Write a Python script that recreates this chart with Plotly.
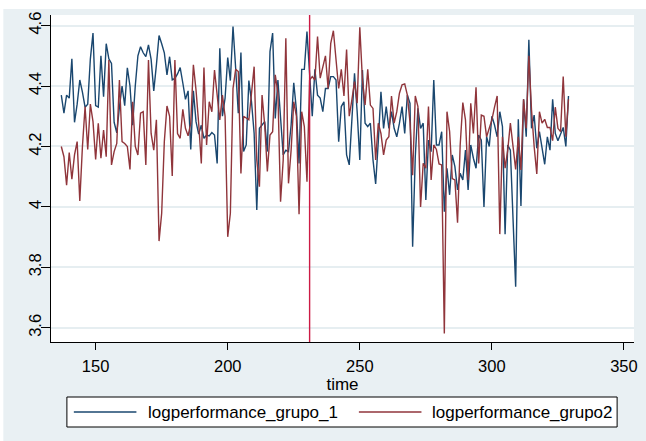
import plotly.graph_objects as go

# Time index and the two log-performance series
time = list(range(137, 330))

grupo_1 = [
    4.37, 4.31, 4.37, 4.36, 4.49, 4.28, 4.34, 4.42, 4.38, 4.33,
    4.34, 4.49, 4.575, 4.335, 4.33, 4.50, 4.365, 4.54, 4.49, 4.475,
    4.28, 4.245, 4.33, 4.40, 4.335, 4.46, 4.40, 4.27, 4.40, 4.50,
    4.53, 4.51, 4.497, 4.536, 4.488, 4.384, 4.47, 4.567, 4.54, 4.51,
    4.437, 4.497, 4.42, 4.425, 4.44, 4.461, 4.41, 4.356, 4.384, 4.19,
    4.384, 4.282, 4.241, 4.27, 4.227, 4.238, 4.235, 4.246, 4.238, 4.144,
    4.525, 4.30, 4.36, 4.494, 4.418, 4.597, 4.459, 4.31, 4.511, 4.183,
    4.205, 4.418, 4.348, 4.243, 3.99, 4.26, 4.271, 4.282, 4.183, 4.514,
    4.575, 4.293, 4.42, 4.288, 4.172, 4.188, 4.183, 4.271, 4.411, 4.321,
    4.144, 4.455, 4.455, 4.58, 4.455, 4.30, 4.455, 4.37, 4.36, 4.315,
    4.392, 4.392, 4.431, 4.431, 4.42, 4.216, 4.332, 4.348, 4.172, 4.139,
    4.288, 4.442, 4.315, 4.155, 4.453, 4.277, 4.266, 4.277, 4.155, 4.076,
    4.216, 4.381, 4.26, 4.332, 4.26, 4.315, 4.26, 4.232, 4.277, 4.332,
    4.243, 4.37, 4.343, 3.868, 4.166, 4.326, 4.26, 4.277, 4.023, 4.221,
    4.183, 4.42, 4.205, 4.205, 4.249, 3.984, 4.128, 4.04, 4.172, 4.133,
    4.056, 4.111, 4.089, 4.188, 4.056, 4.205, 4.161, 4.128, 4.238, 4.221,
    4.0, 4.232, 4.2, 4.30, 4.271, 4.232, 4.315, 4.266, 3.91, 4.205,
    4.188, 3.99, 3.736, 4.29, 4.003, 4.356, 4.232, 4.553, 4.26, 4.304,
    4.194, 4.249, 4.188, 4.141, 4.232, 4.188, 4.356, 4.243, 4.219, 4.243,
    4.263, 4.2, 4.367,
]

grupo2 = [
    4.20, 4.166, 4.072, 4.18, 4.092, 4.172, 4.216, 4.02, 4.2, 4.332,
    4.19, 4.34, 4.282, 4.157, 4.277, 4.161, 4.254, 4.166, 4.486, 4.139,
    4.183, 4.21, 4.42, 4.216, 4.21, 4.2, 4.124, 4.348, 4.2, 4.172,
    4.31, 4.315, 4.139, 4.486, 4.243, 4.188, 4.288, 3.887, 3.979, 4.216,
    4.334, 4.30, 4.102, 4.486, 4.243, 4.227, 4.323, 4.26, 4.235, 4.277,
    4.47, 4.387, 4.277, 4.144, 4.461, 4.205, 4.348, 4.315, 4.453, 4.367,
    4.288, 4.37, 4.30, 3.901, 3.979, 4.392, 4.455, 4.448, 4.111, 4.3,
    4.293, 4.288, 4.376, 4.464, 4.155, 4.067, 4.37, 4.271, 4.117, 4.238,
    4.249, 4.437, 4.376, 4.017, 4.155, 4.558, 4.078, 4.188, 4.348, 4.3,
    3.976, 4.315, 4.266, 4.083, 4.42, 4.431, 4.42, 4.564, 4.426, 4.464,
    4.5, 4.392, 4.541, 4.583, 4.475, 4.392, 4.455, 4.367, 4.521, 4.30,
    4.354, 4.415, 4.343, 4.594, 4.42, 4.337, 4.455, 4.337, 4.326, 4.155,
    4.277, 4.243, 4.172, 4.221, 4.232, 4.367, 4.277, 4.315, 4.376, 4.404,
    4.407, 4.37, 4.28, 4.105, 4.367, 4.332, 4.0, 4.144, 4.128, 4.332,
    4.089, 4.205, 4.19, 4.142, 4.139, 3.581, 4.315, 4.249, 4.094, 4.089,
    3.948, 4.205, 4.345, 4.288, 4.089, 4.343, 4.243, 4.396, 4.144, 4.304,
    4.30, 4.232, 4.26, 4.288, 4.33, 4.367, 3.91, 4.232, 4.128, 4.188,
    4.277, 4.2, 4.124, 4.232, 4.122, 4.356, 4.26, 4.5, 4.321, 4.2,
    4.109, 4.315, 4.277, 4.29, 4.263, 4.263, 4.219, 4.33, 4.26, 4.249,
    4.431, 4.232, 4.356,
]

series_names = ["logperformance_grupo_1", "logperformance_grupo2"]
series_colors = ["#1a476f", "#90353b"]
break_time = 231

x_ticks = [150, 200, 250, 300, 350]
y_ticks = [3.6, 3.8, 4.0, 4.2, 4.4, 4.6]
y_tick_text = ["3.6", "3.8", "4", "4.2", "4.4", "4.6"]

W, H = 646, 441
M_L, M_R, M_T, M_B = 51, 8, 15, 99
PW, PH = W - M_L - M_R, H - M_T - M_B
BG = "#e9f0f3"
FONT = "Liberation Sans, Arial, sans-serif"


def px(xp):
    return (xp - M_L) / PW


def py(yp):
    return (H - M_B - yp) / PH


fig = go.Figure()
for name, vals, col in zip(series_names, [grupo_1, grupo2], series_colors):
    fig.add_trace(go.Scatter(
        x=time, y=vals, mode="lines", name=name,
        line=dict(color=col, width=1.4), showlegend=False,
    ))

# Vertical reference line at the break point
fig.add_shape(type="line", xref="x", yref="paper", x0=break_time, x1=break_time,
              y0=0, y1=1, line=dict(color="#cc1a44", width=1.4))

# White strips along the top and left edges of the page
fig.add_shape(type="rect", xref="paper", yref="paper", x0=px(-5), x1=px(W + 5),
              y0=py(9), y1=py(-5), fillcolor="white", line=dict(width=0), layer="below")
fig.add_shape(type="rect", xref="paper", yref="paper", x0=px(-5), x1=px(3),
              y0=py(H + 5), y1=py(-5), fillcolor="white", line=dict(width=0), layer="below")

# Legend drawn as a boxed key below the axis
fig.add_shape(type="rect", xref="paper", yref="paper", x0=px(67), x1=px(621),
              y0=py(427), y1=py(397), fillcolor="white",
              line=dict(color="black", width=1))
legend_items = [(74, 137, 147), (361, 424, 433)]
for (lx0, lx1, tx), name, col in zip(legend_items, series_names, series_colors):
    fig.add_shape(type="line", xref="paper", yref="paper", x0=px(lx0), x1=px(lx1),
                  y0=py(412), y1=py(412), line=dict(color=col, width=1.4))
    fig.add_annotation(text=name, xref="paper", yref="paper", x=px(tx), y=py(412),
                       xanchor="left", yanchor="middle", showarrow=False,
                       font=dict(family=FONT, size=17, color="black"))

fig.update_layout(
    width=W, height=H,
    margin=dict(l=M_L, r=M_R, t=M_T, b=M_B),
    paper_bgcolor=BG, plot_bgcolor="white",
    font=dict(family=FONT, size=16.5, color="black"),
    showlegend=False,
)
fig.update_xaxes(
    range=[133.1, 353.8], tickvals=x_ticks, ticks="outside", ticklen=7,
    tickcolor="black", showline=True, linecolor="black", linewidth=1,
    showgrid=False, zeroline=False,
    title=dict(text="time", font=dict(size=17), standoff=0),
    tickfont=dict(size=16.5), ticklabelstandoff=2,
)
fig.update_yaxes(
    range=[3.553, 4.635], tickvals=y_ticks, ticktext=y_tick_text, ticks="outside",
    ticklen=9, tickcolor="black", showline=True, linecolor="black", linewidth=1,
    showgrid=True, gridcolor="#e6eef1", gridwidth=1.5, zeroline=False,
    tickangle=-90, tickfont=dict(size=16.5), ticklabelstandoff=-7,
)

fig.write_html("out.html")
